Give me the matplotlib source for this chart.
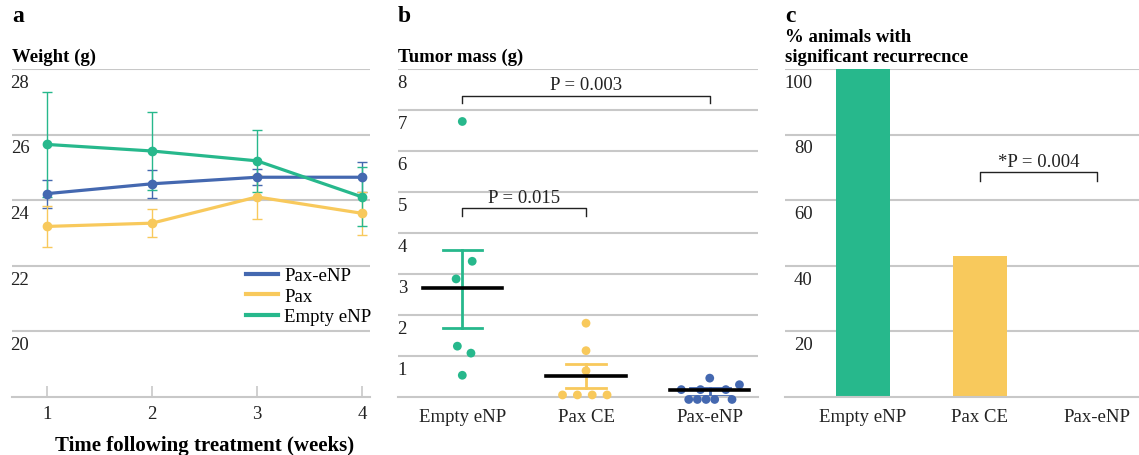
import numpy as np
import matplotlib
matplotlib.use("Agg")
import matplotlib.pyplot as plt
from matplotlib.lines import Line2D
from matplotlib.transforms import ScaledTranslation

plt.rcParams["font.family"] = ["Liberation Serif", "DejaVu Serif"]
plt.rcParams["font.size"] = 13.5

GREEN = "#27b88c"
YELLOW = "#f8c95c"
BLUE = "#4468b0"
GRID = "#c8c8c8"

# panel a: weight over time
weeks = [1, 2, 3, 4]
w_pax_enp = [24.2, 24.5, 24.7, 24.7]
w_pax_enp_err = [0.43, 0.43, 0.25, 0.45]
w_pax = [23.2, 23.3, 24.1, 23.6]
w_pax_err = [0.63, 0.43, 0.68, 0.65]
w_empty = [25.7, 25.5, 25.2, 24.1]
w_empty_err = [1.6, 1.2, 0.95, 0.9]

# panel b: tumor mass points (group index, jitter, value)
groups = ["Empty eNP", "Pax CE", "Pax-eNP"]
empty_vals = [6.72, 3.31, 2.88, 1.24, 1.07, 0.53]
empty_jit = [0.0, 0.08, -0.05, -0.04, 0.07, 0.0]
paxce_vals = [1.80, 1.13, 0.64, 0.05, 0.05, 0.05, 0.05]
paxce_jit = [0.0, 0.0, 0.0, -0.19, -0.07, 0.05, 0.17]
paxenp_vals = [0.46, 0.30, 0.18, 0.18, 0.18, -0.06, -0.06, -0.06, -0.06, -0.06]
paxenp_jit = [0.0, 0.24, -0.23, -0.075, 0.13, -0.17, -0.10, -0.03, 0.04, 0.18]
mass_means = [2.65, 0.52, 0.18]
mass_lo = [1.69, 0.22, 0.03]
mass_hi = [3.59, 0.80, 0.22]

# panel c: recurrence
recur = [100, 42.9, 0]


def style_axis(ax, pad):
    for s in ["top", "right", "left"]:
        ax.spines[s].set_visible(False)
    ax.spines["bottom"].set_color(GRID)
    ax.spines["bottom"].set_linewidth(1.5)
    ax.yaxis.grid(True, color=GRID, linewidth=1.5)
    ax.set_axisbelow(True)
    ax.tick_params(axis="y", length=0, pad=pad, labelcolor="#222222")


def shift_ylabels(ax):
    # labels sit just under their gridline
    for tk in ax.yaxis.get_major_ticks():
        tk.label1.set_va("top")
        tk.label1.set_transform(tk.label1.get_transform() +
                                ScaledTranslation(0, -3.5 / 72, fig.dpi_scale_trans))


def bracket(ax, x0, x1, y, drop, text, ty):
    ax.plot([x0, x0, x1, x1], [y - drop, y, y, y - drop], color="#222222",
            linewidth=1.0, clip_on=False)
    ax.text((x0 + x1) / 2, ty, text, ha="center", va="center", fontsize=13.5,
            color="#222222")


def header(ax, letter, title):
    ax.text(0, 1.012, title, transform=ax.transAxes, fontweight="bold",
            fontsize=13.5, ha="left", va="bottom", linespacing=1.2)
    ax.text(0, 1.13, letter, transform=ax.transAxes, fontweight="bold",
            fontsize=17, ha="left", va="bottom")


fig = plt.figure(figsize=(11.39, 4.56), dpi=100)
ax_a = fig.add_axes([0.01054, 0.1272, 0.3143, 0.7193])
ax_b = fig.add_axes([0.3494, 0.1272, 0.3161, 0.7193])
ax_c = fig.add_axes([0.6892, 0.1272, 0.3108, 0.7193])

# ---- a
handles = []
for vals, err, col, lab in [(w_pax_enp, w_pax_enp_err, BLUE, "Pax-eNP"),
                            (w_pax, w_pax_err, YELLOW, "Pax"),
                            (w_empty, w_empty_err, GREEN, "Empty eNP")]:
    ax_a.errorbar(weeks, vals, yerr=err, color=col, linewidth=2.3, marker="o",
                  markersize=6, elinewidth=1.0, capsize=3.5, capthick=1.0)
    handles.append(Line2D([], [], color=col, linewidth=3, label=lab))
ax_a.set_xlim(0.667, 4.076)
ax_a.set_ylim(18, 28)
ax_a.set_yticks([20, 22, 24, 26, 28])
ax_a.set_xticks(weeks)
style_axis(ax_a, -12.5)
ax_a.tick_params(axis="x", direction="in", length=8, color=GRID, width=1.2,
                 pad=6, labelcolor="#222222")
ax_a.set_xlabel("Time following treatment (weeks)", fontweight="bold",
                fontsize=15, labelpad=7)
ax_a.xaxis.set_label_coords(0.539, -0.115)
ax_a.legend(handles=handles, loc="upper right", bbox_to_anchor=(1.035, 0.43),
            frameon=False, handlelength=1.75, handletextpad=0.3,
            labelspacing=0.18, fontsize=13.5, borderaxespad=0.2)
header(ax_a, "a", "Weight (g)")

# ---- b
pts = [(empty_vals, empty_jit, GREEN), (paxce_vals, paxce_jit, YELLOW),
       (paxenp_vals, paxenp_jit, BLUE)]
for i, (vals, jit, col) in enumerate(pts):
    ax_b.scatter(np.array(jit) + i, vals, s=40, color=col, zorder=3,
                 edgecolor="none", clip_on=False)
    ax_b.plot([i, i], [mass_lo[i], mass_hi[i]], color=col, linewidth=2, zorder=2)
    for yv in (mass_lo[i], mass_hi[i]):
        ax_b.plot([i - 0.16, i + 0.16], [yv, yv], color=col, linewidth=2, zorder=2)
    ax_b.plot([i - 0.32, i + 0.32], [mass_means[i]] * 2, color="black",
              linewidth=2.6, zorder=4)
ax_b.set_xlim(-0.52, 2.39)
ax_b.set_ylim(0, 8)
ax_b.set_yticks(range(1, 9))
ax_b.set_xticks(range(3))
ax_b.set_xticklabels(groups)
style_axis(ax_b, -6.5)
ax_b.tick_params(axis="x", length=0, pad=8, labelcolor="#222222")
bracket(ax_b, 0, 2, 7.35, 0.19, "P = 0.003", 7.62)
bracket(ax_b, 0, 1, 4.61, 0.19, "P = 0.015", 4.87)
header(ax_b, "b", "Tumor mass (g)")

# ---- c
ax_c.bar(range(3), recur, width=0.46, color=[GREEN, YELLOW, BLUE], zorder=2)
ax_c.set_xlim(-0.667, 2.36)
ax_c.set_ylim(0, 100)
ax_c.set_yticks([20, 40, 60, 80, 100])
ax_c.set_xticks(range(3))
ax_c.set_xticklabels(groups)
style_axis(ax_c, -20)
ax_c.tick_params(axis="x", length=0, pad=8, labelcolor="#222222")
bracket(ax_c, 1, 2, 68.7, 2.7, "*P = 0.004", 71.8)
header(ax_c, "c", "% animals with\nsignificant recurrecnce")

for ax in (ax_a, ax_b, ax_c):
    shift_ylabels(ax)

fig.savefig("out.png", dpi=100)
